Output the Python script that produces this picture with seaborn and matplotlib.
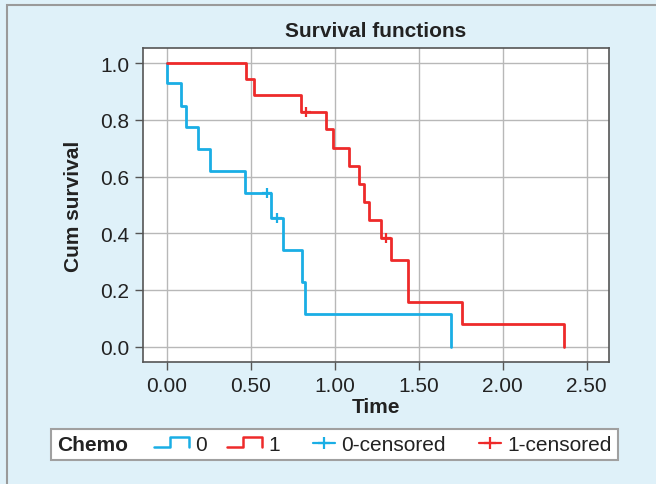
import matplotlib
matplotlib.use("Agg")
import matplotlib.pyplot as plt
import seaborn as sns
import pandas as pd
from matplotlib.lines import Line2D
from matplotlib.legend_handler import HandlerBase
from matplotlib.offsetbox import HPacker
from matplotlib.patches import Rectangle

# step points (time, cum survival)
# chemo = 0
t0 = [0.0, 0.005, 0.086, 0.118, 0.189, 0.257, 0.467, 0.622, 0.692, 0.805, 0.824, 1.693]
s0 = [1.0, 0.929, 0.850, 0.774, 0.697, 0.618, 0.541, 0.453, 0.342, 0.227, 0.117, 0.0]
cens0_t = [0.600, 0.656]
cens0_s = [0.541, 0.453]

# chemo = 1
t1 = [0.0, 0.473, 0.521, 0.801, 0.949, 0.993, 1.088, 1.146, 1.177, 1.204, 1.275, 1.338, 1.438, 1.757, 2.368]
s1 = [1.0, 0.945, 0.886, 0.827, 0.767, 0.702, 0.637, 0.574, 0.511, 0.446, 0.384, 0.307, 0.157, 0.079, 0.0]
cens1_t = [0.830, 1.307]
cens1_s = [0.827, 0.384]

xticks = [0.0, 0.5, 1.0, 1.5, 2.0, 2.5]
yticks = [0.0, 0.2, 0.4, 0.6, 0.8, 1.0]

blue = '#1aaee5'
red = '#ee2a2a'
fs = 15

sns.set_style('white')
plt.rcParams['font.family'] = ['Liberation Sans', 'DejaVu Sans']

fig = plt.figure(figsize=(6.56, 4.85), dpi=100, facecolor='#dff1f9')
ax = fig.add_axes([0.2175, 0.2515, 0.711, 0.647])

df0 = pd.DataFrame({'Time': t0, 'Surv': s0})
df1 = pd.DataFrame({'Time': t1, 'Surv': s1})
sns.lineplot(data=df0, x='Time', y='Surv', drawstyle='steps-post', color=blue,
             lw=2, estimator=None, sort=False, ax=ax)
sns.lineplot(data=df1, x='Time', y='Surv', drawstyle='steps-post', color=red,
             lw=2, estimator=None, sort=False, ax=ax)
sns.scatterplot(x=cens0_t, y=cens0_s, marker='+', s=60, color=blue, linewidth=1.6, ax=ax, zorder=3)
sns.scatterplot(x=cens1_t, y=cens1_s, marker='+', s=60, color=red, linewidth=1.6, ax=ax, zorder=3)

ax.set_xlim(-0.142, 2.634)
ax.set_ylim(-0.054, 1.0525)
ax.set_xticks(xticks)
ax.set_xticklabels([f'{v:.2f}' for v in xticks])
ax.set_yticks(yticks)
ax.set_yticklabels([f'{v:.1f}' for v in yticks])
ax.tick_params(bottom=True, left=True, direction='out', length=5.8, width=1,
               color='#555555', labelsize=fs, labelcolor='#222222', pad=4)
ax.grid(True, color='#b8b8b8', lw=1.0)
ax.set_axisbelow(True)
for sp in ax.spines.values():
    sp.set_color('#555555')
    sp.set_linewidth(1.2)

ax.set_title('Survival functions', fontsize=fs, fontweight='bold', color='#222222', pad=9)
ax.set_xlabel('Time', fontsize=fs, fontweight='bold', color='#222222', labelpad=1.5)
ax.set_ylabel('Cum survival', fontsize=fs, fontweight='bold', color='#222222', labelpad=12)


# legend icons
class StepHandler(HandlerBase):
    def create_artists(self, legend, orig_handle, xdescent, ydescent, width, height, fontsize, trans):
        x0 = -xdescent
        x1 = x0 + width
        y0 = -ydescent + 0.2 * height
        y1 = -ydescent + 0.85 * height
        xm = x0 + 0.47 * width
        line = Line2D([x0, xm, xm, x1, x1], [y0, y0, y1, y1, y0],
                      color=orig_handle.get_color(), lw=1.8)
        line.set_transform(trans)
        return [line]


class CensHandler(HandlerBase):
    def create_artists(self, legend, orig_handle, xdescent, ydescent, width, height, fontsize, trans):
        x1 = -xdescent + width
        x0 = x1 - 15.8
        yc = -ydescent + 0.5 * height
        line = Line2D([x0, x1], [yc, yc], color=orig_handle.get_color(), lw=1.6)
        mark = Line2D([(x0 + x1) / 2], [yc], color=orig_handle.get_color(), marker='+',
                      markersize=9, markeredgewidth=1.6, linestyle='')
        line.set_transform(trans)
        mark.set_transform(trans)
        return [line, mark]


h0 = Line2D([], [], color=blue)
h1 = Line2D([], [], color=red)
hc0 = Line2D([], [], color=blue, marker='+')
hc1 = Line2D([], [], color=red, marker='+')

leg = fig.legend([h0, h1, hc0, hc1], ['0', '1', '0-censored', '1-censored'],
                 handler_map={h0: StepHandler(), h1: StepHandler(),
                              hc0: CensHandler(), hc1: CensHandler()},
                 ncol=4, loc='center', bbox_to_anchor=(0.5102, 0.0817),
                 bbox_transform=fig.transFigure, fontsize=fs, title='Chemo',
                 title_fontproperties={'weight': 'bold', 'size': fs},
                 frameon=True, fancybox=False, framealpha=1, edgecolor='#a0a0a0',
                 handlelength=1.7, handletextpad=0.3, columnspacing=0.95, borderpad=0.3)
leg.get_frame().set_linewidth(1.5)
for txt in leg.get_texts():
    txt.set_color('#222222')
leg.get_title().set_color('#222222')

# put the legend title on the left of the entries
box = HPacker(pad=leg.borderpad * fs, sep=18, align='center',
              children=[leg._legend_title_box, leg._legend_handle_box])
box.set_figure(fig)
box.set_offset(leg._findoffset)
leg._legend_box = box

# outer panel frame
fig.add_artist(Rectangle((7 / 656, -0.1), 1.2, (485 - 6) / 485 + 0.1, transform=fig.transFigure,
                         fill=False, edgecolor='#9a9a9a', lw=1.5))

plt.savefig('out.png', dpi=100, facecolor=fig.get_facecolor())
